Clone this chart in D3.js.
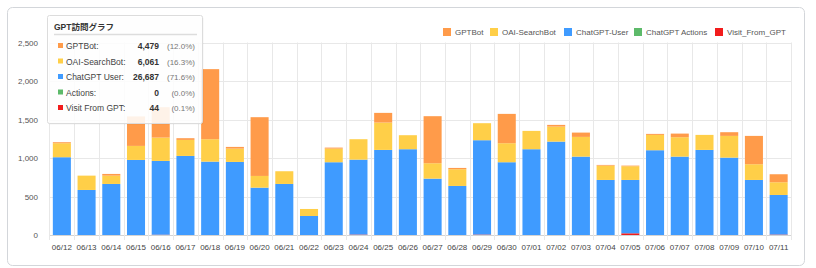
<!DOCTYPE html>
<head>
<meta charset="utf-8">
<script src="https://d3js.org/d3.v7.min.js"></script>
<style>
    *{ margin:0; padding:0; }
    body{ background:#fff; font-family: 'Liberation Sans', 'Noto Sans CJK JP', sans-serif; }
    text{ font-size: 8px; }
</style>
</head>
<body>
<svg id="chart"></svg>
<script>
    // days
    const days = ["06/12","06/13","06/14","06/15","06/16","06/17","06/18","06/19","06/20","06/21",
        "06/22","06/23","06/24","06/25","06/26","06/27","06/28","06/29","06/30","07/01",
        "07/02","07/03","07/04","07/05","07/06","07/07","07/08","07/09","07/10","07/11"];

    // series, values
    const visitFromGpt = [0,0,0,0,4,0,0,0,0,0, 0,0,6,0,0,0,0,6,0,0, 0,0,0,22,0,0,0,0,0,6];
    const actions      = [0,0,0,0,0,0,0,0,0,0, 0,0,0,0,0,0,0,0,0,0, 0,0,0,0,0,0,0,0,0,0];
    const chatgptUser  = [1010,585,663,975,958,1027,953,949,615,663, 247,945,973,1105,1114,732,637,1225,945,1114, 1213,1018,715,693,1101,1018,1105,1005,715,514];
    const oaiSearchBot = [182,186,108,182,303,208,291,173,152,165, 91,177,265,355,182,200,217,221,247,238, 195,256,186,178,199,252,195,282,204,165];
    const gptBot       = [13,0,22,383,395,22,910,22,763,0, 0,13,0,126,0,611,17,0,381,0, 22,56,9,8,13,47,0,48,368,104];

    const seriesNames  = ["GPTBot","OAI-SearchBot","ChatGPT-User","ChatGPT Actions","Visit_From_GPT"];
    const seriesColors = ["#ff9b4a","#ffcf48","#3f9bff","#5dba6a","#f21c1c"];

    // tooltip
    const tipLabels = ["GPTBot:","OAI-SearchBot:","ChatGPT User:","Actions:","Visit From GPT:"];
    const tipValues = ["4,479","6,061","26,687","0","44"];
    const tipPct    = ["(12.0%)","(16.3%)","(71.6%)","(0.0%)","(0.1%)"];

    const yTicks = [0,500,1000,1500,2000,2500];

    const W = 816, H = 268;
    const svg = d3.select("#chart").attr("width", W).attr("height", H);

    // card
    svg.append("rect")
        .attr("x", 7.5).attr("y", 7.5)
        .attr("width", 797).attr("height", 258)
        .attr("rx", 5)
        .attr("fill", "#fff")
        .attr("stroke", "#d3d6da");

    const x = d3.scaleBand().domain(days).range([49.5, 791]).paddingInner(0.27).paddingOuter(0.135);
    const y = d3.scaleLinear().domain([0, 2500]).range([235, 42.5]);

    // table for stack (bottom first)
    const table = days.map((d, i) => ({
        day: d,
        "Visit_From_GPT": visitFromGpt[i],
        "ChatGPT Actions": actions[i],
        "ChatGPT-User": chatgptUser[i],
        "OAI-SearchBot": oaiSearchBot[i],
        "GPTBot": gptBot[i]
    }));
    const stackKeys = seriesNames.slice().reverse();
    const stacked = d3.stack().keys(stackKeys)(table);
    const color = d3.scaleOrdinal().domain(seriesNames).range(seriesColors);

    // horizontal grid
    svg.append("g").selectAll("line")
        .data(yTicks)
        .join("line")
        .attr("x1", 49.5).attr("x2", 791)
        .attr("y1", d => Math.round(y(d)) + 0.5).attr("y2", d => Math.round(y(d)) + 0.5)
        .attr("stroke", d => d == 0 ? "#d4d4d4" : "#e8e8e8");

    // vertical grid, at band edges
    const step = x.step();
    const edges = days.map(d => x(d) - x.paddingInner() * step / 2).concat([791]);
    svg.append("g").selectAll("line")
        .data(edges)
        .join("line")
        .attr("x1", d => Math.round(d) + 0.5).attr("x2", d => Math.round(d) + 0.5)
        .attr("y1", 42.5).attr("y2", 240)
        .attr("stroke", "#e8e8e8");

    // y labels
    svg.append("g").selectAll("text")
        .data(yTicks)
        .join("text")
        .attr("x", 38)
        .attr("y", d => y(d) + 3)
        .attr("text-anchor", "end")
        .attr("fill", "#555")
        .text(d => d3.format(",")(d));

    // x labels
    svg.append("g").selectAll("text")
        .data(days)
        .join("text")
        .attr("x", d => x(d) + x.bandwidth() / 2)
        .attr("y", 250)
        .attr("text-anchor", "middle")
        .attr("fill", "#444")
        .text(d => d);

    // bars
    svg.append("g").selectAll("g")
        .data(stacked)
        .join("g")
        .attr("fill", s => color(s.key))
        .selectAll("rect")
        .data(s => s)
        .join("rect")
        .attr("x", d => x(d.data.day))
        .attr("width", x.bandwidth())
        .attr("y", d => y(d[1]))
        .attr("height", d => Math.max(0, y(d[0]) - y(d[1])));

    // legend
    const legendX = [443, 490, 564, 634, 715];
    const legend = svg.append("g").selectAll("g")
        .data(seriesNames)
        .join("g")
        .attr("transform", (d, i) => `translate(${legendX[i]},28)`);
    legend.append("rect")
        .attr("width", 8).attr("height", 8)
        .attr("fill", d => color(d));
    legend.append("text")
        .attr("x", 12).attr("y", 7)
        .attr("fill", "#555")
        .text(d => d);

    // tooltip box
    const tip = svg.append("g").attr("transform", "translate(47,15)");
    tip.append("rect")
        .attr("x", 1.5).attr("y", 1.5)
        .attr("width", 155).attr("height", 108)
        .attr("rx", 2)
        .attr("fill", "#000")
        .attr("fill-opacity", 0.05);
    tip.append("rect")
        .attr("x", 0.5).attr("y", 0.5)
        .attr("width", 155).attr("height", 108)
        .attr("rx", 2)
        .attr("fill", "#fff")
        .attr("fill-opacity", 0.88)
        .attr("stroke", "#dcdcdc");
    tip.append("text")
        .attr("x", 7).attr("y", 15)
        .attr("font-weight", "bold")
        .attr("fill", "#333")
        .style("font-size", "8.5px")
        .text("GPT訪問グラフ");
    tip.append("line")
        .attr("x1", 7).attr("x2", 150)
        .attr("y1", 19.5).attr("y2", 19.5)
        .attr("stroke", "#ddd").attr("stroke-width", 1.5);

    const rows = tip.append("g").selectAll("g")
        .data(tipLabels)
        .join("g")
        .attr("transform", (d, i) => `translate(0,${31 + i * 15.5})`);
    rows.append("rect")
        .attr("x", 11).attr("y", -3)
        .attr("width", 5).attr("height", 5)
        .attr("fill", (d, i) => seriesColors[i]);
    rows.append("text")
        .attr("x", 19).attr("y", 3)
        .attr("fill", "#444")
        .style("font-size", "8.5px")
        .text(d => d);
    rows.append("text")
        .attr("x", 112).attr("y", 3)
        .attr("text-anchor", "end")
        .attr("font-weight", "bold")
        .attr("fill", "#333")
        .style("font-size", "8.5px")
        .text((d, i) => tipValues[i]);
    rows.append("text")
        .attr("x", 148).attr("y", 3)
        .attr("text-anchor", "end")
        .attr("fill", "#777")
        .style("font-size", "8px")
        .text((d, i) => tipPct[i]);
</script>
</body>
</html>
